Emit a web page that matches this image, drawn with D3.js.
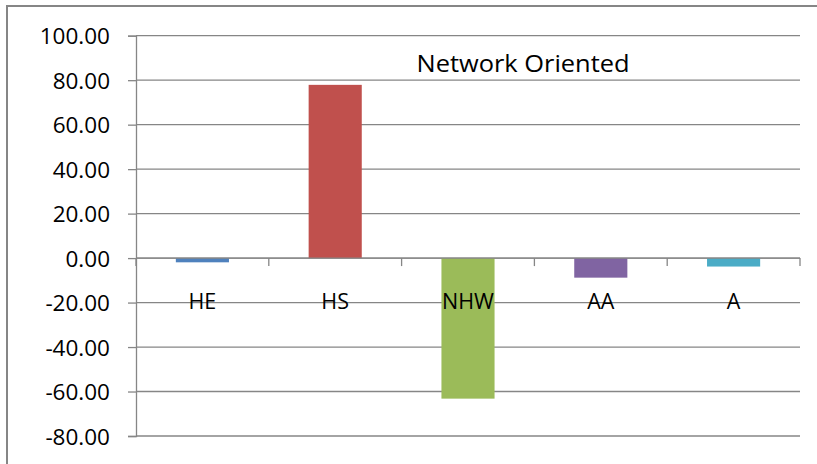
<!DOCTYPE html>
<html><head><meta charset="utf-8">
<script src="https://cdn.jsdelivr.net/npm/d3@7"></script>
<style>body{margin:0;background:#fff}svg{display:block}</style>
</head><body>
<svg id="c" width="817" height="464"></svg>
<script>
const categories = ["HE", "HS", "NHW", "AA", "A"];
const values = [-1.9, 77.9, -63.2, -8.8, -3.8];
const colors = ["#4F81BD", "#C0504D", "#9BBB59", "#8064A2", "#4BACC6"];
const yTicks = [100, 80, 60, 40, 20, 0, -20, -40, -60, -80];
const title = "Network Oriented";

(function () {
const svg = d3.select("#c");
const font = "'Open Sans', 'Liberation Sans', sans-serif";
const pLeft = 136, pRight = 800, pTop = 35.7, pBottom = 436;
const fmt = d3.formatLocale({decimal: ".", thousands: ",", grouping: [3], currency: ["", ""], minus: "-"}).format(".2f");

// outer frame
svg.append("rect").attr("x", 7).attr("y", 6).attr("width", 830).attr("height", 480)
  .attr("fill", "#fff").attr("stroke", "#868686").attr("stroke-width", 2);

const x = d3.scaleBand().domain(categories).range([pLeft, pRight]).paddingInner(0.6).paddingOuter(0.3);
const xb = d3.scaleBand().domain(categories).range([pLeft, pRight]);
const y = d3.scaleLinear().domain([-80, 100]).range([pBottom, pTop]);

// gridlines
svg.append("g").selectAll("line").data(yTicks).join("line")
  .attr("x1", pLeft).attr("x2", pRight).attr("y1", d => y(d)).attr("y2", d => y(d))
  .attr("stroke", "#868686").attr("stroke-width", 1.3);

// y axis
const ya = svg.append("g").attr("transform", `translate(${pLeft},0)`)
  .call(d3.axisLeft(y).tickValues(yTicks).tickFormat(fmt).tickSize(8).tickPadding(18));
ya.select(".domain").attr("stroke", "#868686").attr("stroke-width", 1.3);
ya.selectAll(".tick line").attr("stroke", "#868686").attr("stroke-width", 1.3);
ya.selectAll("text").attr("font-family", font).attr("font-size", 22.5).attr("fill", "#000")
  .attr("dy", "0.36em");

// bars
svg.append("g").selectAll("rect").data(values).join("rect")
  .attr("x", (d, i) => x(categories[i]))
  .attr("width", x.bandwidth())
  .attr("y", d => y(Math.max(0, d)))
  .attr("height", d => Math.abs(y(d) - y(0)))
  .attr("fill", (d, i) => colors[i]);

// x axis line at zero with tick marks at category boundaries
svg.append("line").attr("x1", pLeft).attr("x2", pRight).attr("y1", y(0)).attr("y2", y(0))
  .attr("stroke", "#868686").attr("stroke-width", 1.3);
const bounds = categories.map(c => xb(c)).concat([pRight]);
svg.append("g").selectAll("line").data(bounds).join("line")
  .attr("x1", d => d).attr("x2", d => d).attr("y1", y(0)).attr("y2", y(0) + 8)
  .attr("stroke", "#868686").attr("stroke-width", 1.3);

// category labels
svg.append("g").selectAll("text").data(categories).join("text")
  .attr("x", d => xb(d) + xb.bandwidth() / 2)
  .attr("y", y(0) + 51)
  .attr("text-anchor", "middle")
  .attr("font-family", font).attr("font-size", 21.5).attr("fill", "#000")
  .text(d => d);

// title
svg.append("text").attr("x", 523).attr("y", 71.5).attr("text-anchor", "middle")
  .attr("font-family", font).attr("font-size", 24).attr("fill", "#000")
  .attr("textLength", 213).attr("lengthAdjust", "spacingAndGlyphs")
  .text(title);
})();
</script>
</body></html>
